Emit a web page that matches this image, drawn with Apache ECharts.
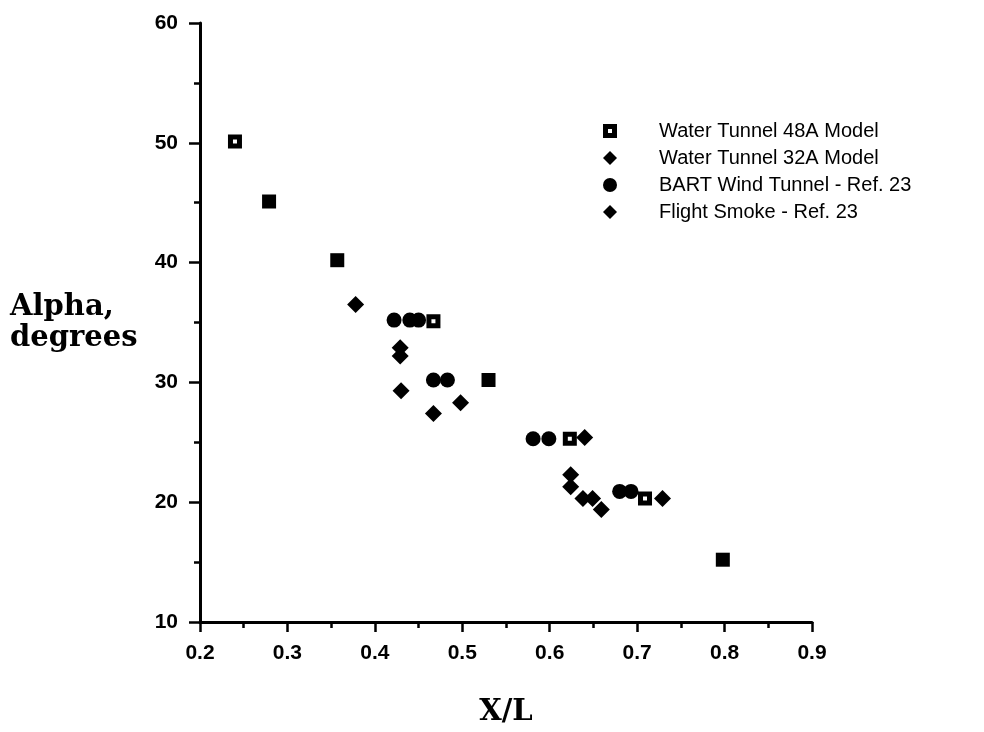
<!DOCTYPE html>
<html>
<head>
<meta charset="utf-8">
<script src="https://cdn.jsdelivr.net/npm/echarts@6/dist/echarts.min.js"></script>
<style>
html,body{margin:0;padding:0;background:#fff;}
#main{width:984px;height:732px;}
</style>
</head>
<body>
<div id="main"></div>
<script>
// ---- data ----
const xTicks = [0.2, 0.3, 0.4, 0.5, 0.6, 0.7, 0.8, 0.9];
const yTicks = [10, 20, 30, 40, 50, 60];

const names = ['Water Tunnel 48A Model', 'Water Tunnel 32A Model', 'BART Wind Tunnel - Ref. 23', 'Flight Smoke - Ref. 23'];

const w48DotX = [0.240, 0.467, 0.623, 0.709];
const w48DotY = [50.1, 35.1, 25.3, 20.3];
const w48SolidX = [0.279, 0.357, 0.530, 0.798];
const w48SolidY = [45.1, 40.2, 30.2, 15.2];
const w32X = [0.378, 0.640, 0.729];
const w32Y = [36.5, 25.4, 20.3];
const bartX = [0.422, 0.440, 0.450, 0.467, 0.483, 0.581, 0.599, 0.680, 0.693];
const bartY = [35.2, 35.2, 35.2, 30.2, 30.2, 25.3, 25.3, 20.9, 20.9];
const flightX = [0.429, 0.429, 0.430, 0.467, 0.498, 0.624, 0.624, 0.638, 0.649, 0.659];
const flightY = [32.9, 32.2, 29.3, 27.4, 28.3, 22.3, 21.3, 20.3, 20.3, 19.4];

function pairs(xs, ys) { return xs.map((x, i) => [x, ys[i]]); }

const dotSquare = 'path://M0,0L14,0L14,14L0,14Z M5,5L5,9L9,9L9,5Z';
const ink = '#000';
const mark = { color: ink, opacity: 1 };
const tickFont = { color: ink, fontFamily: 'Liberation Sans, Arial, sans-serif', fontSize: 21, fontWeight: 'bold' };
const nameFont = { color: ink, fontFamily: 'DejaVu Serif, Liberation Serif, serif', fontWeight: 'bold', fontSize: 29 };

const chart = echarts.init(document.getElementById('main'), null, { renderer: 'canvas' });
chart.setOption({
  backgroundColor: '#fff',
  animation: false,
  grid: { left: 200, top: 23, width: 612, height: 614, containLabel: false },
  legend: {
    orient: 'vertical',
    left: 598,
    top: 116,
    itemWidth: 14,
    itemHeight: 14,
    itemGap: 7,
    itemStyle: { opacity: 1 },
    data: [
      { name: names[0], icon: dotSquare },
      { name: names[1], icon: 'diamond' },
      { name: names[2], icon: 'circle' },
      { name: names[3], icon: 'diamond' }
    ],
    formatter: n => '{g|}{t|' + n + '}',
    textStyle: {
      color: ink,
      rich: {
        g: { width: 37 },
        t: { fontFamily: 'Liberation Sans, Arial, sans-serif', fontSize: 20, color: ink, lineHeight: 22 }
      }
    }
  },
  xAxis: {
    type: 'value', min: 0.2, max: 0.9, interval: 0.1,
    name: 'X/L', nameLocation: 'middle', nameGap: 76,
    nameTextStyle: nameFont,
    axisLine: { show: true, onZero: false, lineStyle: { color: ink, width: 3 } },
    axisTick: { show: true, inside: false, length: 10, lineStyle: { color: ink, width: 2.5 } },
    minorTick: { show: true, splitNumber: 2, length: 6, lineStyle: { color: ink, width: 2.5 } },
    splitLine: { show: false },
    axisLabel: Object.assign({ margin: 21, formatter: v => v.toFixed(1) }, tickFont)
  },
  yAxis: {
    type: 'value', min: 10, max: 60, interval: 10,
    name: 'Alpha,\ndegrees', nameLocation: 'middle', nameRotate: 0, nameGap: 190,
    nameTextStyle: Object.assign({ align: 'left', lineHeight: 31 }, nameFont),
    axisLine: { show: true, onZero: false, lineStyle: { color: ink, width: 3 } },
    axisTick: { show: true, inside: false, length: 11, lineStyle: { color: ink, width: 2.5 } },
    minorTick: { show: true, splitNumber: 2, length: 6, lineStyle: { color: ink, width: 2.5 } },
    splitLine: { show: false },
    axisLabel: Object.assign({ margin: 22 }, tickFont)
  },
  series: [
    { name: names[0], type: 'scatter', symbol: dotSquare, symbolSize: 14, itemStyle: mark, data: pairs(w48DotX, w48DotY), z: 3 },
    { name: names[0], type: 'scatter', symbol: 'rect', symbolSize: 14, itemStyle: mark, data: pairs(w48SolidX, w48SolidY), z: 3 },
    { name: names[1], type: 'scatter', symbol: 'diamond', symbolSize: 17, itemStyle: mark, data: pairs(w32X, w32Y) },
    { name: names[2], type: 'scatter', symbol: 'circle', symbolSize: 15, itemStyle: mark, data: pairs(bartX, bartY) },
    { name: names[3], type: 'scatter', symbol: 'diamond', symbolSize: 17, itemStyle: mark, data: pairs(flightX, flightY) }
  ]
});
</script>
</body>
</html>
